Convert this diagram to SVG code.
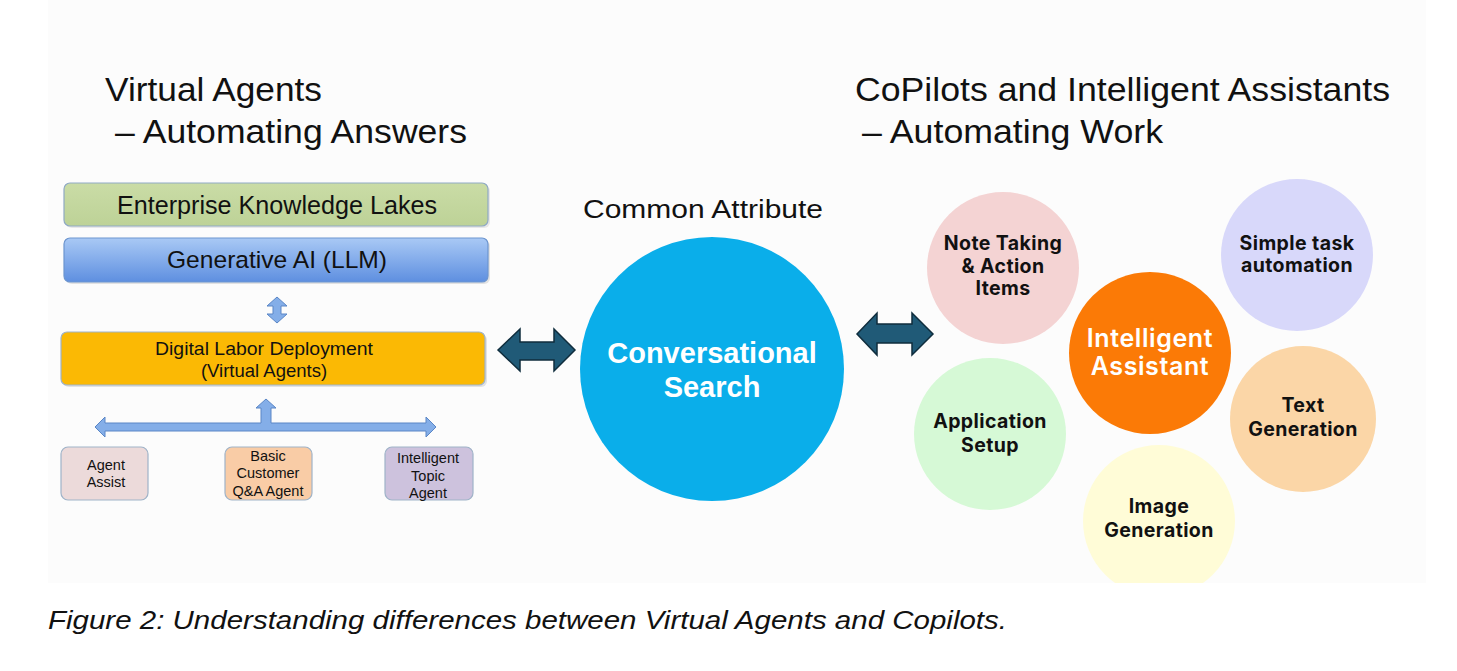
<svg xmlns="http://www.w3.org/2000/svg" width="1457" height="671" viewBox="0 0 1457 671">
<style>
.title{font-family:"Liberation Sans",Arial,sans-serif;font-size:34px;fill:#111}
.box{stroke:#8fa9c4;stroke-width:1.2}
.bt{font-family:"Liberation Sans",Arial,sans-serif;fill:#111;text-anchor:middle}
.small{font-size:14.5px}
.ct{font-family:Inter,"Noto Sans",sans-serif;font-weight:700;font-size:19.5px;letter-spacing:0.4px;fill:#111;text-anchor:middle}
.dark{fill:#205a77;stroke:#0f2d3d;stroke-width:1.5;stroke-linejoin:miter}
.lb{fill:#84aee8;stroke:#5a86c6;stroke-width:1}
</style>
<defs>
<linearGradient id="gblue" x1="0" y1="0" x2="0" y2="1">
<stop offset="0" stop-color="#a9c9f5"/>
<stop offset="1" stop-color="#5e8fe0"/>
</linearGradient>
<linearGradient id="ggreen" x1="0" y1="0" x2="0" y2="1">
<stop offset="0" stop-color="#cadca6"/>
<stop offset="1" stop-color="#bdd297"/>
</linearGradient>
<clipPath id="panelclip"><rect x="48" y="0" width="1378" height="583"/></clipPath>
</defs>
<rect x="0" y="0" width="1457" height="671" fill="#ffffff"/>
<rect x="48" y="0" width="1378" height="583" fill="#fcfcfc"/>

<g id="titles">
<text class="title" x="105" y="101" textLength="217" lengthAdjust="spacingAndGlyphs">Virtual Agents</text>
<text class="title" x="115" y="143" textLength="352" lengthAdjust="spacingAndGlyphs">– Automating Answers</text>
<text class="title" x="855" y="101" textLength="535" lengthAdjust="spacingAndGlyphs">CoPilots and Intelligent Assistants</text>
<text class="title" x="862" y="143" textLength="301" lengthAdjust="spacingAndGlyphs">– Automating Work</text>
</g>

<g id="connectors">
<polygon class="lb" points="277,297 287,306 281,306 281,314 287,314 277,323 267,314 273,314 273,306 267,306"/>
<polygon class="lb" points="95,427 105,417 105,423 261,423 261,408 256,408 266,399 276,408 271,408 271,423 426,423 426,417 436,427 426,437 426,431 105,431 105,437"/>
<polygon class="dark" points="498,350 520,329 520,342 554,342 554,329 575,350 554,371 554,360 520,360 520,371"/>
<polygon class="dark" points="857,334 877,313 877,324 912,324 912,313 933,334 912,355 912,343 877,343 877,355"/>
</g>

<g id="ekl">
<rect x="66" y="185" width="424" height="43" rx="6" fill="#d9d9d9" opacity="0.6"/>
<rect class="box" x="64" y="183" width="424" height="43" rx="6" fill="url(#ggreen)"/>
<text class="bt" x="277" y="214" font-size="25" textLength="320" lengthAdjust="spacingAndGlyphs">Enterprise Knowledge Lakes</text>
</g>
<g id="genai">
<rect x="66" y="240" width="424" height="44" rx="6" fill="#d0d0d0" opacity="0.6"/>
<rect x="64" y="238" width="424" height="44" rx="6" fill="url(#gblue)" stroke="#6c95cf" stroke-width="1.2"/>
<text class="bt" x="277" y="268" font-size="24.5" textLength="220" lengthAdjust="spacingAndGlyphs">Generative AI (LLM)</text>
</g>
<g id="dld">
<rect x="63" y="334" width="424" height="53" rx="6" fill="#d0d0d0" opacity="0.6"/>
<rect x="61" y="332" width="424" height="53" rx="6" fill="#fbb904" stroke="#9fb3c8" stroke-width="1.2"/>
<text class="bt" x="264" y="355" font-size="18.5" textLength="218" lengthAdjust="spacingAndGlyphs">Digital Labor Deployment</text>
<text class="bt" x="264" y="377" font-size="18.5">(Virtual Agents)</text>
</g>
<g id="agentassist">
<rect x="61" y="447" width="87" height="53" rx="7" fill="#ecdada" stroke="#9fb3c8" stroke-width="1.2"/>
<text class="bt small" x="106" y="470">Agent</text>
<text class="bt small" x="106" y="487">Assist</text>
</g>
<g id="basicqa">
<rect x="225" y="447" width="87" height="53" rx="7" fill="#f9cca6" stroke="#9fb3c8" stroke-width="1.2"/>
<text class="bt small" x="268" y="461">Basic</text>
<text class="bt small" x="268" y="478">Customer</text>
<text class="bt small" x="268" y="496">Q&amp;A Agent</text>
</g>
<g id="topicagent">
<rect x="385" y="447" width="88" height="53" rx="7" fill="#cdc2dd" stroke="#9fb3c8" stroke-width="1.2"/>
<text class="bt small" x="428" y="463">Intelligent</text>
<text class="bt small" x="428" y="481">Topic</text>
<text class="bt small" x="428" y="498">Agent</text>
</g>

<g id="common">
<text class="bt" x="703" y="218" font-size="26" textLength="240" lengthAdjust="spacingAndGlyphs">Common Attribute</text>
<circle cx="712" cy="369" r="132" fill="#0aaeea"/>
<text x="712" y="363" font-family="Liberation Sans,Arial,sans-serif" font-weight="700" font-size="29" fill="#ffffff" text-anchor="middle">Conversational</text>
<text x="712" y="397" font-family="Liberation Sans,Arial,sans-serif" font-weight="700" font-size="29" fill="#ffffff" text-anchor="middle">Search</text>
</g>

<g id="notetaking">
<circle cx="1003" cy="268" r="76" fill="#f4d3d3"/>
<text class="ct" x="1003" y="250">Note Taking</text>
<text class="ct" x="1003" y="273">&amp; Action</text>
<text class="ct" x="1003" y="295">Items</text>
</g>
<g id="simpletask">
<circle cx="1297" cy="255" r="76" fill="#d8d8fa"/>
<text class="ct" x="1297" y="250">Simple task</text>
<text class="ct" x="1297" y="272">automation</text>
</g>
<g id="appsetup">
<circle cx="990" cy="434" r="76" fill="#d6f9d6"/>
<text class="ct" x="990" y="428">Application</text>
<text class="ct" x="990" y="452">Setup</text>
</g>
<g id="textgen">
<circle cx="1303" cy="419" r="73" fill="#fbd6a7"/>
<text class="ct" x="1303" y="412">Text</text>
<text class="ct" x="1303" y="436">Generation</text>
</g>
<g id="imagegen">
<circle cx="1159" cy="521" r="76" fill="#fffcd7" clip-path="url(#panelclip)"/>
<text class="ct" x="1159" y="513">Image</text>
<text class="ct" x="1159" y="537">Generation</text>
</g>
<g id="assistant">
<circle cx="1150" cy="353" r="81" fill="#fb7a06"/>
<text x="1150" y="347" font-family="Inter,Noto Sans,sans-serif" font-weight="600" font-size="25" letter-spacing="0.6" fill="#ffffff" text-anchor="middle">Intelligent</text>
<text x="1150" y="375" font-family="Inter,Noto Sans,sans-serif" font-weight="600" font-size="25" letter-spacing="0.6" fill="#ffffff" text-anchor="middle">Assistant</text>
</g>

<text x="48" y="629" font-family="Liberation Sans,Arial,sans-serif" font-style="italic" font-size="26" fill="#111" textLength="959" lengthAdjust="spacingAndGlyphs">Figure 2: Understanding differences between Virtual Agents and Copilots.</text>
</svg>
